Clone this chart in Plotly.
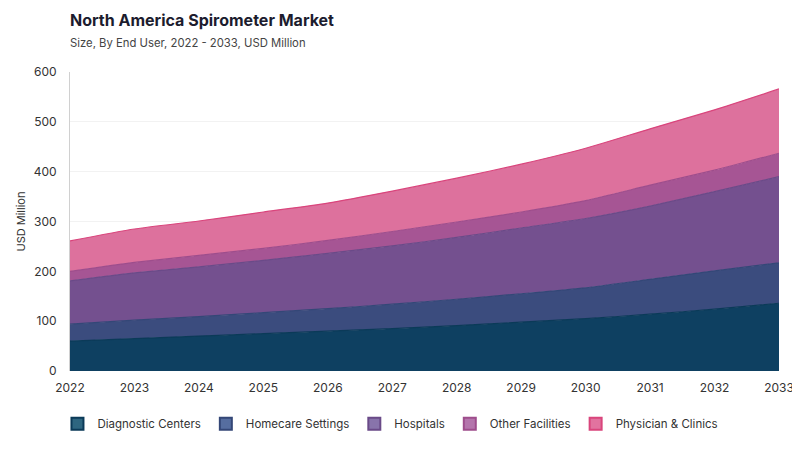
import plotly.graph_objects as go

years = list(range(2022, 2034))

# values per end user, USD million
diagnostic_centers = [60, 65, 70, 75, 80, 85, 91, 98, 105, 114, 124, 136]
homecare_settings = [34, 37, 39, 42, 45, 49, 53, 57, 62, 70, 77, 81]
hospitals = [87, 95, 100, 105, 111, 117, 124, 132, 139, 147, 159, 173]
other_facilities = [19, 21, 23, 24, 26, 29, 31, 32, 36, 42, 43, 47]
physician_clinics = [61, 67, 69, 73, 75, 81, 88, 96, 105, 113, 121, 129]

series = [
    ("Diagnostic Centers", diagnostic_centers, "#0e4061", "#0b3a58", "#2e6680"),
    ("Homecare Settings", homecare_settings, "#3b4c7e", "#344777", "#566ea0"),
    ("Hospitals", hospitals, "#74508f", "#6a4a88", "#8874ab"),
    ("Other Facilities", other_facilities, "#a65594", "#9e4d8c", "#b475ac"),
    ("Physician & Clinics", physician_clinics, "#dd719d", "#d9457c", "#e2739f"),
]

FONT = "Inter, Lato, sans-serif"

fig = go.Figure()

for name, values, fill, line, legend_col in series:
    fig.add_trace(
        go.Scatter(
            x=years,
            y=values,
            name=name,
            mode="lines",
            stackgroup="one",
            line=dict(color=line, width=1.2, shape="spline", smoothing=0.6),
            fillcolor=fill,
            showlegend=False,
            hovertemplate=f"{name}: %{{y}}<extra></extra>",
        )
    )
    # Dummy trace for square legend markers
    fig.add_trace(
        go.Scatter(
            x=[None],
            y=[None],
            mode="markers",
            name=name,
            marker=dict(symbol="square", size=14, color=legend_col,
                        line=dict(color=line, width=1.5)),
            showlegend=True,
        )
    )

# page body has an 8px margin, so the figure is 8px smaller than the window
fig.update_layout(
    width=792,
    height=442,
    paper_bgcolor="white",
    plot_bgcolor="white",
    font=dict(family=FONT, color="#333333", size=12),
    title=dict(
        text="<b>North America Spirometer Market</b><br>"
        "<span style='font-size:11.3px;color:#444'>Size, By End User, 2022 - 2033, USD Million</span>",
        x=0.0783,
        xanchor="left",
        y=0.959,
        yanchor="top",
        font=dict(family=FONT, size=16, color="#1c1c2e"),
    ),
    margin=dict(l=62, r=21, t=64, b=79, autoexpand=False),
    showlegend=True,
    legend=dict(
        orientation="h",
        traceorder="normal",
        x=0.452,
        xanchor="center",
        y=-0.128,
        yanchor="top",
        font=dict(family=FONT, size=11.5, color="#333333"),
        itemsizing="constant",
        itemwidth=30,
    ),
)

# y axis title as an annotation so it sits where the reference has it
fig.add_annotation(
    text="USD Million",
    xref="paper",
    yref="paper",
    x=-0.0705,
    y=0.5,
    xanchor="center",
    yanchor="middle",
    textangle=-90,
    showarrow=False,
    font=dict(family=FONT, size=11, color="#333333"),
)

fig.update_xaxes(
    range=[2022, 2033],
    tickmode="array",
    tickvals=years,
    ticktext=[str(y) for y in years],
    showgrid=False,
    showline=False,
    zeroline=False,
    ticks="",
    automargin=False,
    ticklabelstandoff=8,
    tickfont=dict(size=12, color="#333333"),
)

fig.update_yaxes(
    range=[0, 600],
    dtick=100,
    showgrid=True,
    gridcolor="#f2f2f2",
    gridwidth=1,
    showline=True,
    linecolor="#d0d0d0",
    linewidth=1,
    zeroline=False,
    ticks="",
    automargin=False,
    ticklabelstandoff=10,
    tickfont=dict(size=12, color="#333333"),
)

fig.write_html("out.html")
